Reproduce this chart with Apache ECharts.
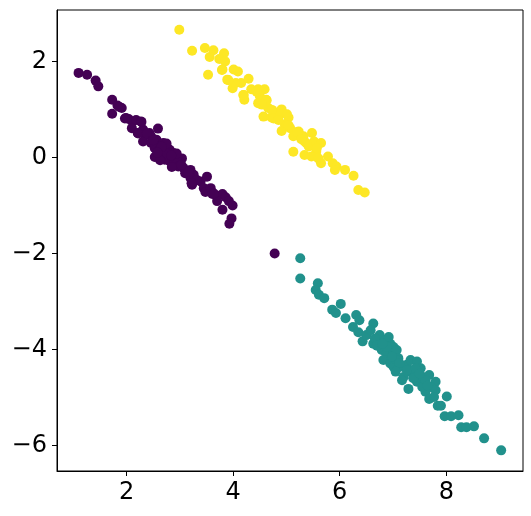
<!DOCTYPE html>
<html>
<head>
<meta charset="utf-8">
<script src="https://cdn.jsdelivr.net/npm/echarts@6/dist/echarts.min.js"></script>
<style>
  html, body { margin: 0; padding: 0; background: #fff; }
  #chart { width: 531px; height: 516px; }
</style>
</head>
<body>
<div id="chart"></div>
<script>
// cluster 0 (dark purple)
var purple = [
  [1.10, 1.76], [1.26, 1.72], [1.42, 1.60], [1.47, 1.48], [1.73, 1.20], [1.83, 1.08],
  [1.91, 1.03], [1.73, 0.91], [1.99, 0.82], [2.04, 0.80], [2.11, 0.75], [2.18, 0.78],
  [2.27, 0.75], [2.10, 0.61], [2.31, 0.58], [2.59, 0.60], [2.21, 0.51], [2.37, 0.47],
  [2.31, 0.33], [2.46, 0.44], [2.46, 0.30], [2.56, 0.37], [2.69, 0.30], [2.53, 0.19],
  [2.62, 0.16], [2.75, 0.23], [2.81, 0.16], [2.88, 0.09], [2.55, 0.02], [2.69, 0.05],
  [2.78, 0.02], [2.94, 0.03], [3.04, -0.02], [2.81, -0.08], [2.91, -0.15], [3.00, -0.11],
  [3.10, -0.33], [3.20, -0.26], [3.26, -0.36], [3.23, -0.57], [3.39, -0.50], [3.51, -0.40],
  [3.45, -0.64], [3.48, -0.72], [3.58, -0.64], [3.61, -0.76], [3.70, -0.80], [3.80, -0.76],
  [3.86, -0.83], [3.70, -0.91], [3.92, -0.91], [3.99, -1.00], [3.80, -1.09], [3.97, -1.27],
  [3.93, -1.38], [4.78, -2.00],
  [2.43, 0.51], [2.65, 0.23], [2.75, 0.12], [2.85, -0.01], [2.94, -0.05], [2.62, 0.02],
  [2.72, -0.05], [2.97, -0.19], [3.07, -0.22], [3.13, -0.29], [3.20, -0.43], [3.32, -0.47],
  [3.64, -0.75],
  [1.87, 1.05], [1.97, 0.81], [2.28, 0.74], [2.22, 0.50], [2.38, 0.50], [2.50, 0.36],
  [2.75, 0.29], [2.53, 0.01], [2.75, 0.08], [2.94, 0.08], [2.85, -0.20], [3.16, -0.30],
  [3.22, -0.54], [2.66, 0.22], [2.63, -0.06], [2.58, 0.10], [2.84, 0.04], [3.03, -0.16]
];

// cluster 1 (teal)
var teal = [
  [5.26, -2.10], [5.26, -2.52], [5.59, -2.62], [5.55, -2.76], [5.61, -2.86], [5.71, -2.93],
  [6.02, -3.05], [5.86, -3.17], [5.93, -3.24], [6.11, -3.35], [6.31, -3.28], [6.37, -3.39],
  [6.25, -3.53], [6.35, -3.64], [6.43, -3.83], [6.50, -3.70], [6.63, -3.46], [6.58, -3.60],
  [6.63, -3.88], [6.72, -3.81], [6.75, -3.70], [6.85, -3.81], [6.95, -3.88], [6.92, -3.74],
  [7.01, -3.95], [6.79, -4.01], [6.88, -4.08], [7.01, -4.08], [7.07, -4.01], [6.82, -4.22],
  [6.95, -4.29], [7.10, -4.18], [7.14, -4.36], [7.01, -4.36], [7.26, -4.32], [7.33, -4.22],
  [7.45, -4.25], [7.52, -4.39], [7.33, -4.46], [7.20, -4.57], [7.17, -4.64], [7.42, -4.53],
  [7.55, -4.57], [7.68, -4.53], [7.29, -4.82], [7.45, -4.67], [7.58, -4.71], [7.80, -4.67],
  [7.61, -4.88], [7.71, -4.78], [7.80, -4.85], [7.68, -5.03], [7.77, -4.99], [8.01, -4.98],
  [7.84, -5.17], [7.90, -5.17], [7.97, -5.39], [8.09, -5.39], [8.23, -5.37], [8.28, -5.62],
  [8.38, -5.62], [8.52, -5.60], [8.71, -5.85], [9.03, -6.10],
  [6.66, -3.77], [6.88, -3.94], [7.07, -4.22], [7.26, -4.43], [7.42, -4.39], [7.55, -4.78],
  [7.61, -4.64], [6.70, -3.92], [6.98, -4.15], [7.12, -4.28], [7.38, -4.60], [7.50, -4.50],
  [7.65, -4.75], [6.80, -3.88], [7.05, -4.46]
];

// cluster 2 (yellow)
var yellow = [
  [2.99, 2.66], [3.23, 2.22], [3.47, 2.28], [3.63, 2.23], [3.56, 2.09], [3.83, 2.17],
  [3.74, 2.05], [3.85, 2.00], [3.53, 1.72], [3.80, 1.83], [4.01, 1.83], [4.09, 1.79],
  [3.89, 1.62], [3.99, 1.44], [4.05, 1.55], [4.15, 1.55], [4.29, 1.64], [4.20, 1.30],
  [4.21, 1.20], [4.34, 1.42], [4.47, 1.42], [4.59, 1.42], [4.50, 1.28], [4.62, 1.20],
  [4.47, 1.13], [4.57, 0.85], [4.66, 1.03], [4.75, 0.96], [4.91, 1.00], [4.72, 0.83],
  [4.88, 0.90], [5.01, 0.90], [5.04, 0.83], [4.97, 0.69], [4.91, 0.55], [5.07, 0.61],
  [5.23, 0.54], [5.13, 0.44], [5.32, 0.44], [5.48, 0.51], [5.34, 0.33], [5.13, 0.12],
  [5.42, 0.23], [5.52, 0.33], [5.65, 0.30], [5.34, 0.05], [5.47, 0.02], [5.56, 0.12],
  [5.65, -0.12], [5.78, 0.02], [5.87, -0.12], [5.94, -0.19], [5.91, -0.26], [6.10, -0.26],
  [6.26, -0.38], [6.35, -0.68], [6.47, -0.73],
  [3.79, 1.82], [3.91, 1.61], [4.44, 1.37], [4.63, 1.19], [4.73, 0.99], [4.76, 0.81],
  [5.04, 0.67], [5.20, 0.53], [5.38, 0.29], [5.57, 0.19], [5.60, -0.02], [4.19, 1.30],
  [4.54, 1.10], [4.85, 0.78], [5.28, 0.38]
];

var xTicks = [2, 4, 6, 8];
var yTicks = [-6, -4, -2, 0, 2];

var colors = ['#440154', '#21918c', '#fde725'];

function minus(v) {
  return String(v).replace('-', '\u2212');
}

var chart = echarts.init(document.getElementById('chart'));

var tickLabel = {
  color: '#000',
  fontSize: 24,
  fontFamily: 'DejaVu Sans',
  formatter: minus
};

chart.setOption({
  animation: false,
  grid: {
    left: 57, right: 8, top: 10, bottom: 45,
    show: true, borderColor: '#000', borderWidth: 1
  },
  xAxis: {
    type: 'value',
    min: 0.695, max: 9.44,
    splitLine: { show: false },
    axisLine: { onZero: false, lineStyle: { color: '#000' } },
    axisTick: { show: true, length: 5, lineStyle: { color: '#000' }, customValues: xTicks },
    axisLabel: Object.assign({ margin: 10, customValues: xTicks }, tickLabel)
  },
  yAxis: {
    type: 'value',
    min: -6.53, max: 3.07,
    splitLine: { show: false },
    axisLine: { show: true, onZero: false, lineStyle: { color: '#000' } },
    axisTick: { show: true, length: 5, lineStyle: { color: '#000' }, customValues: yTicks },
    axisLabel: Object.assign({ margin: 10, customValues: yTicks }, tickLabel)
  },
  series: [purple, teal, yellow].map(function (d, i) {
    return {
      type: 'scatter',
      data: d,
      symbolSize: 10,
      itemStyle: { color: colors[i], opacity: 1 }
    };
  })
});
</script>
</body>
</html>
